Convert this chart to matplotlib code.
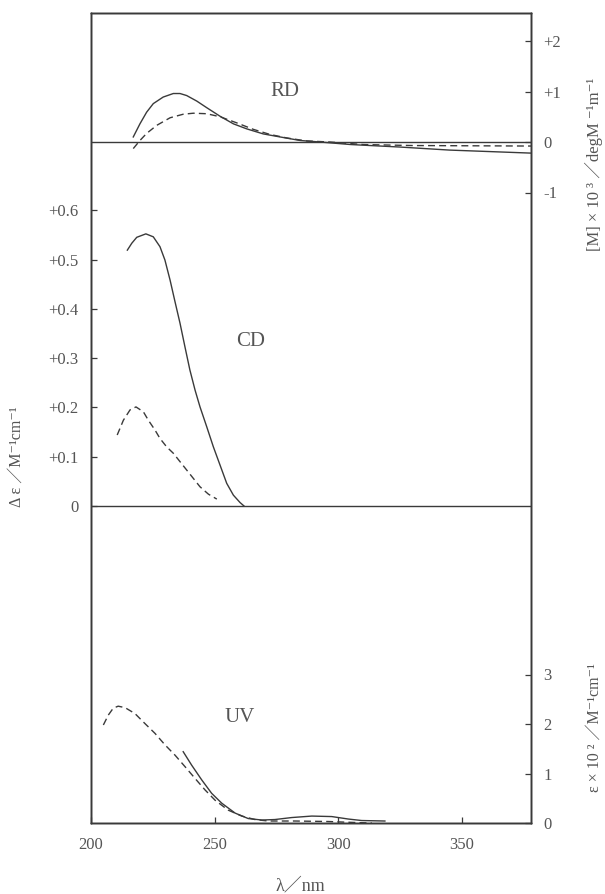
"""RD / CD / UV spectra sharing one wavelength axis (scanned textbook figure)."""

import matplotlib
matplotlib.use("Agg")
import matplotlib.pyplot as plt

plt.rcParams["font.family"] = ["Liberation Serif", "DejaVu Serif", "Noto Sans CJK JP"]

INK = "#3a3a3a"
TXT = "#555555"

# ---- data (wavelength in nm) ----
# RD, [M] x 10^3 (right axis, top)
rd_solid_nm = [217.1, 219.8, 222.5, 225.2, 229.2, 233.3, 236.0, 238.7, 242.8, 246.8,
               252.2, 257.6, 263.0, 269.7, 276.5, 284.6, 292.6, 305, 325, 345, 378]
rd_solid_val = [0.10, 0.36, 0.59, 0.76, 0.89, 0.96, 0.96, 0.92, 0.81, 0.68,
                0.51, 0.36, 0.26, 0.16, 0.10, 0.03, 0.0, -0.05, -0.10, -0.16, -0.22]
rd_dash_nm = [217.1, 219.8, 222.5, 226.6, 232.0, 237.3, 241.4, 246.8, 252.2, 258.9,
              265.7, 272.4, 279.2, 287.3, 296.7, 310, 330, 378]
rd_dash_val = [-0.13, 0.03, 0.17, 0.33, 0.48, 0.55, 0.57, 0.56, 0.50, 0.38,
               0.25, 0.15, 0.08, 0.02, 0.0, -0.05, -0.07, -0.08]

# CD, delta epsilon (left axis)
cd_solid_nm = [214.7, 216.5, 218.5, 222.2, 225.2, 227.9, 229.9, 232.0, 234.0, 236.0, 238.0,
               240.0, 242.1, 244.1, 246.8, 249.5, 252.2, 254.9, 257.6, 260.3, 261.9]
cd_solid_val = [0.519, 0.533, 0.545, 0.552, 0.546, 0.526, 0.499, 0.458, 0.414, 0.371, 0.323,
                0.276, 0.235, 0.201, 0.161, 0.120, 0.083, 0.046, 0.022, 0.007, 0.0]
cd_dash_nm = [210.6, 213.1, 215.8, 218.2, 221.2, 223.2, 225.9, 227.9, 230.6, 233.3, 236.0,
              238.7, 241.4, 244.1, 247.5, 250.9]
cd_dash_val = [0.144, 0.174, 0.195, 0.201, 0.191, 0.174, 0.154, 0.137, 0.120, 0.107, 0.090,
               0.073, 0.056, 0.039, 0.024, 0.014]

# UV, epsilon x 10^2 (right axis, bottom)
uv_solid_nm = [237.3, 240.7, 244.8, 248.8, 252.9, 258.3, 263.6, 269.1, 274.4, 281.2,
               289.3, 297.4, 304.1, 309.5, 318.9]
uv_solid_val = [1.44, 1.17, 0.87, 0.60, 0.40, 0.20, 0.09, 0.06, 0.07, 0.11,
                0.14, 0.13, 0.08, 0.05, 0.04]
uv_dash_nm = [205.0, 207.0, 209.0, 211.0, 213.8, 217.8, 221.8, 225.9, 229.9, 234.0, 238.0,
              242.1, 246.1, 250.2, 255.5, 261.0, 266.3, 271.7, 282.5, 296.0, 306.8, 313.6]
uv_dash_val = [1.98, 2.18, 2.32, 2.36, 2.33, 2.21, 2.01, 1.81, 1.58, 1.37, 1.14,
               0.90, 0.67, 0.46, 0.26, 0.14, 0.07, 0.04, 0.04, 0.03, 0.01, 0.0]

x_ticks = [200, 250, 300, 350]
rd_ticks = [-1, 0, 1, 2]
rd_labels = ["-1", "0", "+1", "+2"]
cd_ticks = [0, 0.1, 0.2, 0.3, 0.4, 0.5, 0.6]
cd_labels = ["0", "+0.1", "+0.2", "+0.3", "+0.4", "+0.5", "+0.6"]
uv_ticks = [0, 1, 2, 3]
uv_labels = ["0", "1", "2", "3"]

# ---- layout (pixels of the 605x894 image) ----
W, H = 605, 894
AX_L, AX_R, AX_T, AX_B = 91, 531, 13, 823
AX_H = AX_B - AX_T


def ylims(zero_px, px_per_unit):
    """y-limits that put value 0 at image row zero_px with the given scale."""
    above = AX_B - zero_px
    return -above / px_per_unit, (AX_H - above) / px_per_unit


fig = plt.figure(figsize=(W / 100, H / 100), dpi=100)
ax = fig.add_axes([AX_L / W, (H - AX_B) / H, (AX_R - AX_L) / W, AX_H / H])
ax_rd = ax.twinx()
ax_uv = ax.twinx()

solid = dict(color=INK, lw=1.0, ls="-")
dashed = dict(color=INK, lw=1.0, ls=(0, (5, 3)))

# CD on the left axis
ax.plot(cd_solid_nm, cd_solid_val, **solid)
ax.plot(cd_dash_nm, cd_dash_val, **dashed)
ax.axhline(0, color=INK, lw=1.0)
ax.set_ylim(*ylims(506, 493))

# RD on the right, upper part
ax_rd.plot(rd_solid_nm, rd_solid_val, **solid)
ax_rd.plot(rd_dash_nm, rd_dash_val, **dashed)
ax_rd.axhline(0, color=INK, lw=1.0)
ax_rd.set_ylim(*ylims(142, 50.5))

# UV on the right, lower part
ax_uv.plot(uv_solid_nm, uv_solid_val, **solid)
ax_uv.plot(uv_dash_nm, uv_dash_val, **dashed)
ax_uv.set_ylim(*ylims(AX_B, 49.5))

ax.set_xlim(200, 378)
ax.set_xticks(x_ticks)
ax.set_xticklabels([str(t) for t in x_ticks])

ax.set_yticks(cd_ticks)
ax.set_yticklabels(cd_labels)
ax_rd.set_yticks(rd_ticks)
ax_rd.set_yticklabels(rd_labels)
ax_uv.set_yticks(uv_ticks)
ax_uv.set_yticklabels(uv_labels)

for a in (ax, ax_rd, ax_uv):
    a.tick_params(direction="in", length=4.5, width=0.9, colors=INK,
                  labelcolor=TXT, labelsize=12, pad=9)
    for sp in a.spines.values():
        sp.set_color(INK)
        sp.set_linewidth(1.0)
ax.tick_params(axis="x", pad=10)
ax.tick_params(right=False, top=False)

# panel names
fig.text(285 / W, 1 - 92 / H, "RD", ha="center", va="center", fontsize=15, color=TXT)
fig.text(251 / W, 1 - 342 / H, "CD", ha="center", va="center", fontsize=15, color=TXT)
fig.text(240 / W, 1 - 717 / H, "UV", ha="center", va="center", fontsize=15, color=TXT)

# axis titles
fig.text(594 / W, 1 - 164 / H, "[M] × 10 ³ ／degM ⁻¹m⁻¹", rotation=90,
         ha="center", va="center", fontsize=12, color=TXT)
fig.text(17 / W, 1 - 457 / H, "Δ ε ／M⁻¹cm⁻¹", rotation=90,
         ha="center", va="center", fontsize=11.5, color=TXT)
fig.text(595 / W, 1 - 728 / H, "ε × 10 ² ／M⁻¹cm⁻¹", rotation=90,
         ha="center", va="center", fontsize=11.5, color=TXT)
fig.text(300 / W, 1 - 886 / H, "λ／nm", ha="center", va="center",
         fontsize=13, color=TXT)

fig.savefig("out.png", dpi=100)
